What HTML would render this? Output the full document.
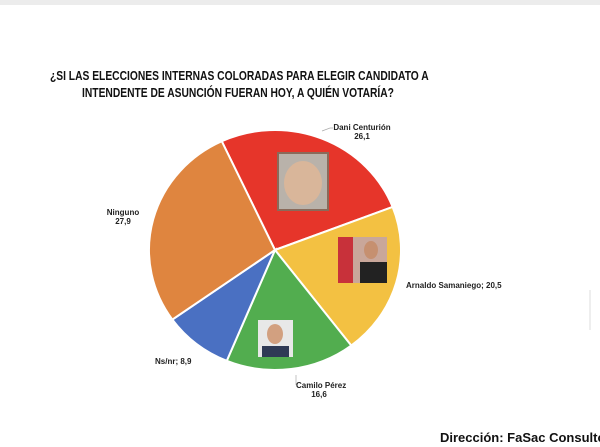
<!DOCTYPE html>
<html><head><meta charset="utf-8"><style>
body{margin:0;width:600px;height:447px;background:#fff;overflow:hidden;font-family:"Liberation Sans",sans-serif;position:relative}
.t{position:absolute;font-weight:bold;color:#111;white-space:nowrap}
.l{position:absolute;font-size:8px;font-weight:bold;color:#222;white-space:nowrap}
</style></head><body>
<div style="position:absolute;left:0;top:0;width:600px;height:5px;background:#ececec"></div>
<div class="t" style="left:0;width:476px;text-align:center;top:67px;font-size:13px;line-height:17px;transform:scaleX(0.79);transform-origin:238px 0">¿SI LAS ELECCIONES INTERNAS COLORADAS PARA ELEGIR CANDIDATO A<br>INTENDENTE DE ASUNCIÓN FUERAN HOY, A QUIÉN VOTARÍA?</div>
<svg id="s" width="600" height="447" style="position:absolute;left:0;top:0"></svg>
<div class="l" style="left:327px;top:123px;text-align:center;width:70px">Dani Centurión<br>26,1</div>
<div class="l" style="left:103px;top:208px;text-align:center;width:40px">Ninguno<br>27,9</div>
<div class="l" style="left:406px;top:281px">Arnaldo Samaniego; 20,5</div>
<div class="l" style="left:155px;top:357px">Ns/nr; 8,9</div>
<div class="l" style="left:296px;top:381px;text-align:center;width:46px">Camilo Pérez<br>16,6</div>
<div class="t" style="left:440px;top:430px;font-size:13px">Dirección: FaSac Consultor</div>
<script>
var s=document.getElementById('s'),cx=275,cy=250,rx=126,ry=120;
var d=[[26.1,'#e6352a'],[20.5,'#f3c142'],[16.6,'#52ad4f'],[8.9,'#4a70c2'],[27.9,'#df853f']];
var a=-25,h='';
function p(g){var r=(g-90)*Math.PI/180;return [cx+rx*Math.cos(r),cy+ry*Math.sin(r)];}
d.forEach(function(e){var b=a+e[0]*3.6,p1=p(a),p2=p(b);
h+='<path d="M'+cx+','+cy+'L'+p1[0]+','+p1[1]+'A'+rx+','+ry+' 0 '+(b-a>180?1:0)+',1 '+p2[0]+','+p2[1]+'Z" fill="'+e[1]+'" stroke="#fff" stroke-width="2"/>';a=b;});
h+='<rect x="278" y="153" width="50" height="57" fill="#b9b2aa" stroke="#8a6a5a" stroke-width="2"/><ellipse cx="303" cy="183" rx="19" ry="22" fill="#d9b69a"/>';
h+='<rect x="338" y="237" width="49" height="46" fill="#c9a79a"/><rect x="338" y="237" width="15" height="46" fill="#c8313a"/><rect x="360" y="262" width="27" height="21" fill="#222"/><ellipse cx="371" cy="250" rx="7" ry="9" fill="#c69070"/>';
h+='<rect x="258" y="320" width="35" height="37" fill="#e8e8e8"/><ellipse cx="275" cy="334" rx="8" ry="10" fill="#d2a080"/><rect x="262" y="346" width="27" height="11" fill="#2f3a55"/>';
h+='<line x1="590" y1="290" x2="590" y2="330" stroke="#ddd"/>';
h+='<polyline points="322,131 330,128 333,128" fill="none" stroke="#aaa" stroke-width="0.7"/><polyline points="296,375 296,385" fill="none" stroke="#aaa" stroke-width="0.7"/>';
s.innerHTML=h;
</script>
</body></html>
